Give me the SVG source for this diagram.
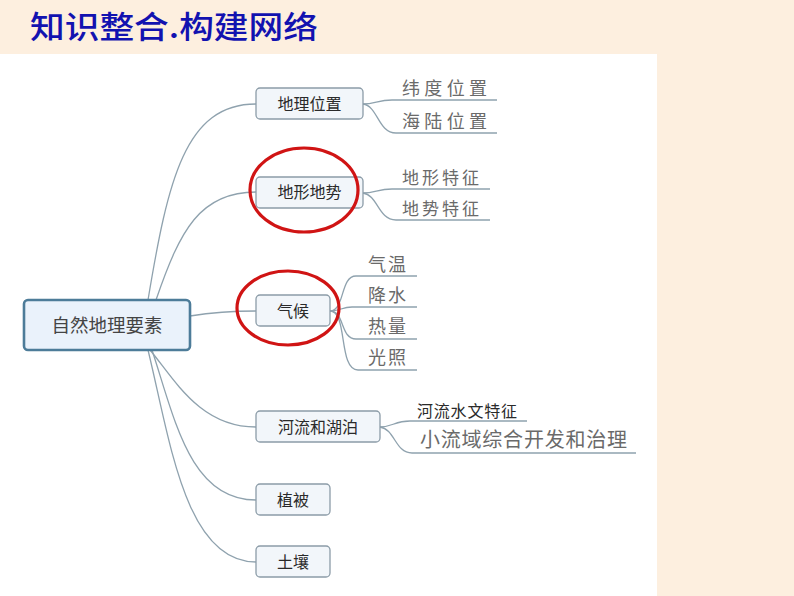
<svg xmlns="http://www.w3.org/2000/svg" width="794" height="596" viewBox="0 0 794 596">
<style>
.node rect{fill:#F2F6FA;stroke:#8C9CA8;stroke-width:1.3}
.root rect{fill:#EAF2FB;stroke:#4D7C99;stroke-width:2.6}
.nt{font-family:"Noto Sans CJK SC","Noto Sans",sans-serif;font-size:16px;fill:#2a2a2a;text-anchor:middle}
.ct{font-family:"Noto Sans CJK SC","Noto Sans",sans-serif;font-size:18px;fill:#6a6a6a}
.conn path{fill:none;stroke:#8FA2AE;stroke-width:1.3}
.mark{fill:none;stroke:#D01414;stroke-width:3.2}
</style>
<rect x="0" y="0" width="794" height="596" fill="#FDEFDF"/>
<rect x="0" y="54" width="657" height="542" fill="#FFFFFF"/>
<text x="30" y="38" font-family="Noto Sans CJK SC,sans-serif" font-size="31" font-weight="500" fill="#1212B0" textLength="288" lengthAdjust="spacingAndGlyphs">知识整合.构建网络</text>
<g class="conn">
<path d="M148,300 C168,180 185,104 256,104"/>
<path d="M156,300 C180,230 200,192 256,192"/>
<path d="M190,316 C215,312 230,311 256,311"/>
<path d="M150,350 C175,380 200,427 256,427"/>
<path d="M152,350 C175,420 190,500 256,500"/>
<path d="M148,350 C170,440 185,562 256,562"/>
<path d="M363,104 C375,104 378,100 392,100 L497,100"/>
<path d="M363,104 C378,106 378,133 396,133 L497,133"/>
<path d="M363,193 C375,193 378,189 392,189 L490,189"/>
<path d="M363,193 C378,195 378,220 396,220 L490,220"/>
<path d="M330,311 C345,311 340,276 356,276 L417,276"/>
<path d="M330,311 C340,311 342,307 352,307 L417,307"/>
<path d="M330,311 C345,311 340,339 356,339 L417,339"/>
<path d="M330,311 C348,311 338,370 358,370 L417,370"/>
<path d="M380,427 C392,427 395,421 410,421 L527,421"/>
<path d="M380,427 C395,429 395,453 412,453 L636,453"/>
</g>
<g id="root" class="root"><rect x="24" y="300" width="166" height="50" rx="4"/><text x="107" y="332" class="nt" style="font-size:18.5px;fill:#444">自然地理要素</text></g>
<g id="n1" class="node"><rect x="256" y="88" width="107" height="31" rx="4"/><text x="309.5" y="110" class="nt">地理位置</text></g>
<g id="n2" class="node"><rect x="256" y="177" width="107" height="31" rx="4"/><text x="309.5" y="198" class="nt">地形地势</text></g>
<g id="n3" class="node"><rect x="256" y="295" width="74" height="31" rx="4"/><text x="293" y="317" class="nt">气候</text></g>
<g id="n4" class="node"><rect x="256" y="411" width="124" height="31" rx="4"/><text x="318" y="433" class="nt">河流和湖泊</text></g>
<g id="n5" class="node"><rect x="256" y="484" width="74" height="31" rx="4"/><text x="293" y="506" class="nt">植被</text></g>
<g id="n6" class="node"><rect x="256" y="546" width="74" height="31" rx="4"/><text x="293" y="568" class="nt">土壤</text></g>
<g id="c1"><text x="402" y="95" class="ct" textLength="85">纬度位置</text></g>
<g id="c2"><text x="402" y="128" class="ct" textLength="85">海陆位置</text></g>
<g id="c3"><text x="402" y="184" class="ct" style="font-size:17px" textLength="77">地形特征</text></g>
<g id="c4"><text x="402" y="215" class="ct" style="font-size:17px" textLength="77">地势特征</text></g>
<g id="c5"><text x="368" y="271" class="ct" textLength="38">气温</text></g>
<g id="c6"><text x="368" y="302" class="ct" textLength="38">降水</text></g>
<g id="c7"><text x="368" y="333" class="ct" textLength="38">热量</text></g>
<g id="c8"><text x="368" y="364" class="ct" textLength="38">光照</text></g>
<g id="c9"><text x="417" y="417" class="ct" style="font-size:16px;fill:#2a2a2a" textLength="100">河流水文特征</text></g>
<g id="c10"><text x="420" y="447" class="ct" style="font-size:20px" textLength="207">小流域综合开发和治理</text></g>
<ellipse class="mark" cx="304" cy="190" rx="54" ry="42"/>
<ellipse class="mark" cx="288" cy="308" rx="51" ry="37"/>
</svg>
